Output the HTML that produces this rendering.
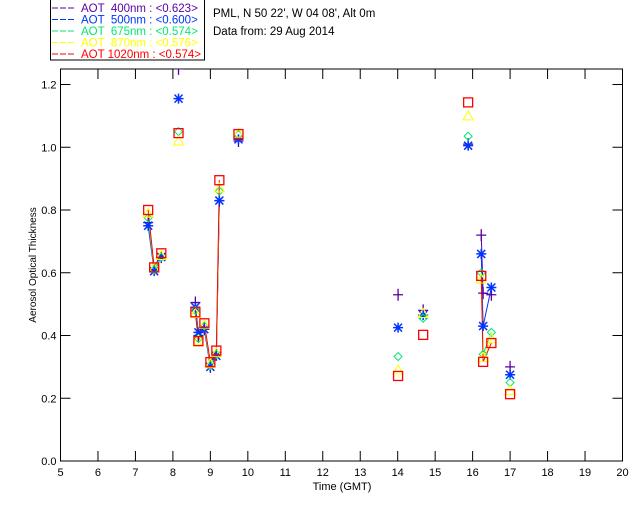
<!DOCTYPE html>
<html><head><meta charset="utf-8">
<style>
body{margin:0;background:#fff;}
svg{display:block;font-family:"Liberation Sans",sans-serif;}
text{white-space:pre;}
</style></head>
<body>
<svg id="chart" width="640" height="512" viewBox="0 0 640 512">
<defs><clipPath id="pc"><rect x="60.5" y="69" width="562" height="392"/></clipPath></defs>
<rect x="0" y="0" width="640" height="512" fill="#fff"/>
<g id="legend">
<rect x="50.5" y="-1" width="154" height="61" fill="none" stroke="#000"/>
</g>
<text x="213" y="17" font-size="11.5" fill="#000">PML, N 50 22', W 04 08', Alt 0m</text>
<text x="213" y="35" font-size="11.5" fill="#000">Data from: 29 Aug 2014</text>
<g id="axes"></g>
<g id="series" clip-path="url(#pc)"></g>
<text x="342" y="490" font-size="11" text-anchor="middle">Time (GMT)</text>
<text transform="translate(36,265) rotate(-90)" font-size="10" text-anchor="middle">Aerosol Optical Thickness</text>
</svg>
<script>
const times=[7.34,7.50,7.69,8.15,8.60,8.68,8.84,9.00,9.16,9.24,9.75,14.01,14.68,15.88,16.23,16.28,16.5,17.0];
const aot400=[0.76,0.61,0.65,1.25,0.505,0.40,0.42,0.30,0.34,0.83,1.02,0.53,0.48,1.01,0.72,0.535,0.53,0.30];
const aot500=[0.75,0.605,0.65,1.155,0.49,0.41,0.42,0.30,0.335,0.83,1.025,0.425,0.465,1.005,0.66,0.43,0.553,0.275];
const aot675=[0.775,0.61,0.65,1.05,0.48,0.39,0.43,0.305,0.34,0.86,1.04,0.333,0.455,1.035,0.60,0.34,0.41,0.25];
const aot870=[0.79,0.615,0.655,1.02,0.47,0.385,0.435,0.31,0.345,0.87,1.045,0.29,0.47,1.10,0.58,0.33,0.39,0.225];
const aot1020=[0.80,0.617,0.662,1.045,0.474,0.382,0.439,0.315,0.352,0.895,1.042,0.271,0.402,1.143,0.59,0.316,0.376,0.213];
const xTicks=[5,6,7,8,9,10,11,12,13,14,15,16,17,18,19,20];
const yTicks=[0,0.2,0.4,0.6,0.8,1.0,1.2];
const legendLabels=["AOT  400nm : <0.623>","AOT  500nm : <0.600>","AOT  675nm : <0.574>","AOT  870nm : <0.576>","AOT 1020nm : <0.574>"];

const NS="http://www.w3.org/2000/svg";
const L=60.5,R=622.5,T=69,B=461;
const xs=t=>L+(t-5)*(R-L)/15;
const ys=v=>B-v*(B-84.5)/1.2;
function mk(tag,attrs,parent){const e=document.createElementNS(NS,tag);for(const k in attrs)e.setAttribute(k,attrs[k]);parent.appendChild(e);return e;}
const ax=document.getElementById('axes');
const frame=mk('rect',{x:L,y:T,width:R-L,height:B-T,fill:'none',stroke:'#000','stroke-width':1},ax);


xTicks.forEach(t=>{
  const x=xs(t);
  mk('line',{x1:x,y1:B,x2:x,y2:B-10,stroke:'#000'},ax);
  mk('line',{x1:x,y1:T,x2:x,y2:T+10,stroke:'#000'},ax);
  const tx=mk('text',{x:x,y:B+15,'font-size':11,'text-anchor':'middle'},ax);
  tx.textContent=t;
  
  
});
yTicks.forEach(v=>{
  const y=ys(v);
  mk('line',{x1:L,y1:y,x2:L+10,y2:y,stroke:'#000'},ax);
  mk('line',{x1:R,y1:y,x2:R-10,y2:y,stroke:'#000'},ax);
  const tx=mk('text',{x:L-4,y:y+4,'font-size':11,'text-anchor':'end'},ax);
  tx.textContent=v.toFixed(1);
  
  
});
const colors=['#5a00a0','#0033ff','#00e870','#ffff00','#ff0000'];
const series=[aot400,aot500,aot675,aot870,aot1020];
const names=['aot-400','aot-500','aot-675','aot-870','aot-1020'];
const lg=document.getElementById('legend');
legendLabels.forEach((s,i)=>{
  const y=12+i*11.5;
  mk('line',{x1:52,y1:y-4,x2:74,y2:y-4,stroke:colors[i],'stroke-dasharray':'6,2'},lg);
  const tx=mk('text',{x:81,y:y,'font-size':11.5,fill:colors[i]},lg);
  tx.textContent=s;
  
  
});
const sg=document.getElementById('series');
function marker(i,x,y,g){
  const c=colors[i];
  if(i===0){mk('path',{d:`M${x-5},${y}H${x+5}M${x},${y-6}V${y+6}`,stroke:c,'stroke-width':1.3,fill:'none'},g);}
  else if(i===1){mk('path',{d:`M${x-5},${y}H${x+5}M${x},${y-5}V${y+5}M${x-4},${y-4}L${x+4},${y+4}M${x-4},${y+4}L${x+4},${y-4}`,stroke:c,'stroke-width':1.5,fill:'none'},g);}
  else if(i===2){mk('path',{d:`M${x},${y-4}L${x+4},${y}L${x},${y+4}L${x-4},${y}Z`,stroke:c,'stroke-width':1,fill:'none'},g);}
  else if(i===3){mk('path',{d:`M${x},${y-5}L${x+5},${y+4}L${x-5},${y+4}Z`,stroke:c,'stroke-width':1,fill:'none'},g);}
  else {mk('rect',{x:x-4.5,y:y-4.5,width:9,height:9,stroke:c,'stroke-width':1.3,fill:'none'},g);}
}
series.forEach((vals,i)=>{
  const g=mk('g',{},sg);
  
  
  let d='';
  for(let k=0;k<times.length;k++){
    const x=xs(times[k]),y=ys(vals[k]);
    if(k>0&&times[k]-times[k-1]<=0.3)d+=`L${x},${y}`;else d+=`M${x},${y}`;
  }
  const p=mk('path',{d:d,stroke:colors[i],'stroke-width':1,fill:'none'},g);
  
  
});
series.forEach((vals,i)=>{
  const g=mk('g',{},sg);
  
  
  for(let k=0;k<times.length;k++)marker(i,xs(times[k]),ys(vals[k]),g);
});
</script>
</body></html>
